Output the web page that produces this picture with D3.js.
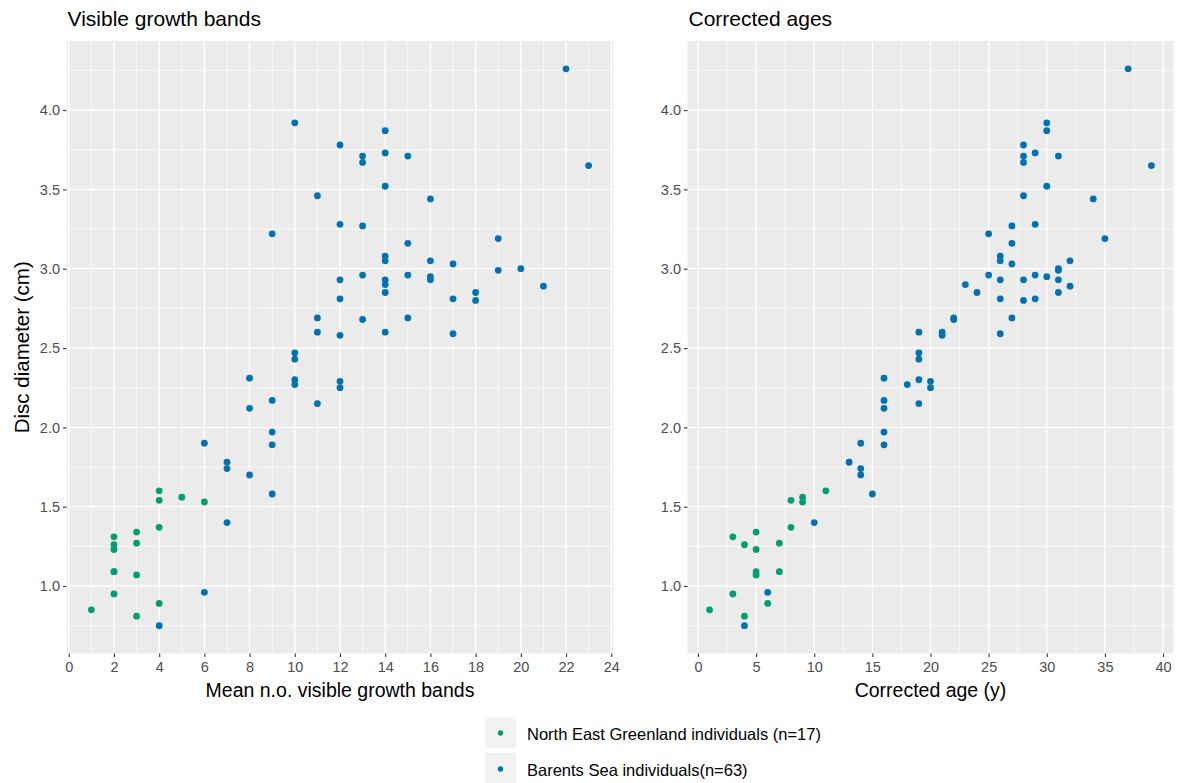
<!DOCTYPE html>
<html>
<head>
<meta charset="utf-8">
<script src="https://cdn.jsdelivr.net/npm/d3@7"></script>
<style>
  html, body { margin: 0; padding: 0; background: #ffffff; }
  svg { display: block; font-family: "Liberation Sans", Arial, sans-serif; }
</style>
</head>
<body>
<svg id="chart" width="1177" height="783"></svg>
<script>
// North East Greenland individuals: mean visible bands, corrected age (y), disc diameter (cm)
const neBands = [1, 2, 2, 2, 2, 2, 2, 3, 3, 3, 3, 4, 4, 4, 4, 5, 6];
const neAge   = [1, 3, 4, 5, 5, 7, 3, 5, 7, 5, 4, 11, 8, 8, 6, 9, 9];
const neDisc  = [0.85, 1.31, 1.26, 1.23, 1.09, 1.09, 0.95, 1.34, 1.27, 1.07, 0.81, 1.60, 1.54, 1.37, 0.89, 1.56, 1.53];

// Barents Sea individuals
const bsBands = [4, 6, 7, 9, 7, 7, 8, 6, 9, 9, 8, 9, 8, 10, 11, 10, 10, 10, 11, 12, 12,
                 12, 14, 17, 11, 13, 15, 14, 14, 13, 12, 12, 14, 18, 15, 17, 16, 16, 18, 20, 19,
                 16, 21, 14, 14, 17, 15, 9, 13, 12, 19, 16, 11, 14, 23, 13, 13, 12, 14, 15, 14, 10, 22];
const bsAge   = [4, 6, 10, 15, 13, 14, 14, 14, 16, 16, 16, 16, 16, 18, 19, 19, 19, 19, 19, 20, 20,
                 21, 21, 26, 22, 22, 27, 24, 23, 25, 26, 26, 28, 28, 29, 29, 30, 31, 31, 31, 31,
                 32, 32, 26, 26, 27, 27, 25, 27, 29, 35, 34, 28, 30, 39, 28, 28, 28, 29, 31, 30, 30, 37];
const bsDisc  = [0.75, 0.96, 1.40, 1.58, 1.78, 1.74, 1.70, 1.90, 1.89, 1.97, 2.12, 2.17, 2.31, 2.27, 2.15, 2.30, 2.43, 2.47, 2.60, 2.29, 2.25,
                 2.58, 2.60, 2.59, 2.69, 2.68, 2.69, 2.85, 2.90, 2.96, 2.93, 2.81, 2.93, 2.80, 2.96, 2.81, 2.95, 2.93, 2.85, 3.00, 2.99,
                 3.05, 2.89, 3.08, 3.05, 3.03, 3.16, 3.22, 3.27, 3.28, 3.19, 3.44, 3.46, 3.52, 3.65, 3.67, 3.71, 3.78, 3.73, 3.71, 3.87, 3.92, 4.26];

// Axis breaks
const bandTicks  = [0, 2, 4, 6, 8, 10, 12, 14, 16, 18, 20, 22, 24];
const bandMinor  = [1, 3, 5, 7, 9, 11, 13, 15, 17, 19, 21, 23];
const ageTicks   = [0, 5, 10, 15, 20, 25, 30, 35, 40];
const ageMinor   = [2.5, 7.5, 12.5, 17.5, 22.5, 27.5, 32.5, 37.5];
const discTicks  = [1.0, 1.5, 2.0, 2.5, 3.0, 3.5, 4.0];
const discMinor  = [0.75, 1.25, 1.75, 2.25, 2.75, 3.25, 3.75, 4.25];

const groupNames  = ["North East Greenland individuals (n=17)", "Barents Sea individuals(n=63)"];
const groupColors = ["#009E73", "#0072B2"];

const svg = d3.select("#chart");

// 5% padding on each side of the data range
function padded(values) {
  const [lo, hi] = d3.extent(values);
  const m = (hi - lo) * 0.05;
  return [lo - m, hi + m];
}

const panelTop = 41, panelBottom = 653.5;
const y = d3.scaleLinear().domain(padded(neDisc.concat(bsDisc))).range([panelBottom, panelTop]);

function panel(opt) {
  const x = d3.scaleLinear().domain(padded(opt.xA.concat(opt.xB))).range([opt.left, opt.right]);
  const g = svg.append("g");

  g.append("rect")
    .attr("x", opt.left).attr("y", panelTop)
    .attr("width", opt.right - opt.left).attr("height", panelBottom - panelTop)
    .attr("fill", "#EBEBEB");

  // minor grid
  g.selectAll(".ym").data(discMinor).join("line")
    .attr("x1", opt.left).attr("x2", opt.right)
    .attr("y1", d => y(d)).attr("y2", d => y(d))
    .attr("stroke", "#ffffff").attr("stroke-width", 0.7);
  g.selectAll(".xm").data(opt.minor).join("line")
    .attr("y1", panelTop).attr("y2", panelBottom)
    .attr("x1", d => x(d)).attr("x2", d => x(d))
    .attr("stroke", "#ffffff").attr("stroke-width", 0.7);
  // major grid
  g.selectAll(".yM").data(discTicks).join("line")
    .attr("x1", opt.left).attr("x2", opt.right)
    .attr("y1", d => y(d)).attr("y2", d => y(d))
    .attr("stroke", "#ffffff").attr("stroke-width", 1.3);
  g.selectAll(".xM").data(opt.ticks).join("line")
    .attr("y1", panelTop).attr("y2", panelBottom)
    .attr("x1", d => x(d)).attr("x2", d => x(d))
    .attr("stroke", "#ffffff").attr("stroke-width", 1.3);

  // axes
  const xAxis = d3.axisBottom(x).tickValues(opt.ticks).tickSize(3.5).tickPadding(4.5).tickFormat(d3.format("d"));
  const ax = g.append("g").attr("transform", `translate(0,${panelBottom})`).call(xAxis);
  const yAxis = d3.axisLeft(y).tickValues(discTicks).tickSize(3.5).tickPadding(3).tickFormat(d3.format(".1f"));
  const ay = g.append("g").attr("transform", `translate(${opt.left},0)`).call(yAxis);
  [ax, ay].forEach(a => {
    a.select(".domain").remove();
    a.selectAll(".tick line").attr("stroke", "#333333").attr("stroke-width", 1.1);
    a.selectAll(".tick text").attr("fill", "#4D4D4D").style("font-size", "14.5px")
      .style("font-family", '"Liberation Sans", Arial, sans-serif');
  });

  // points
  const pts = [];
  opt.xA.forEach((v, i) => pts.push({x: v, y: neDisc[i], c: groupColors[0]}));
  opt.xB.forEach((v, i) => pts.push({x: v, y: bsDisc[i], c: groupColors[1]}));
  g.selectAll(".pt").data(pts).join("circle")
    .attr("cx", d => x(d.x)).attr("cy", d => y(d.y)).attr("r", 3.4)
    .attr("fill", d => d.c);

  // titles
  g.append("text").attr("x", opt.left + 1).attr("y", 26)
    .style("font-size", "21px").attr("fill", "#000").text(opt.title);
  g.append("text").attr("x", (opt.left + opt.right) / 2).attr("y", 697)
    .attr("text-anchor", "middle").style("font-size", "19.5px").attr("fill", "#000").text(opt.xTitle);
}

panel({left: 66.5, right: 613.5, xA: neBands, xB: bsBands, ticks: bandTicks, minor: bandMinor,
       title: "Visible growth bands", xTitle: "Mean n.o. visible growth bands"});
panel({left: 687.5, right: 1173.5, xA: neAge, xB: bsAge, ticks: ageTicks, minor: ageMinor,
       title: "Corrected ages", xTitle: "Corrected age (y)"});

svg.append("text")
  .attr("transform", `translate(29,${(panelTop + panelBottom) / 2}) rotate(-90)`)
  .attr("text-anchor", "middle").style("font-size", "20.5px").attr("fill", "#000")
  .text("Disc diameter (cm)");

// legend
const legend = svg.append("g").attr("transform", "translate(485,717)");
groupNames.forEach((name, i) => {
  const row = legend.append("g").attr("transform", `translate(0,${i * 36})`);
  row.append("rect").attr("width", 31).attr("height", 31).attr("fill", "#F2F2F2");
  row.append("circle").attr("cx", 15.5).attr("cy", 16).attr("r", 2.7).attr("fill", groupColors[i]);
  row.append("text").attr("x", 42).attr("y", 17).attr("dy", "0.35em")
    .style("font-size", "16.5px").attr("fill", "#000").text(name);
});
</script>
</body>
</html>
